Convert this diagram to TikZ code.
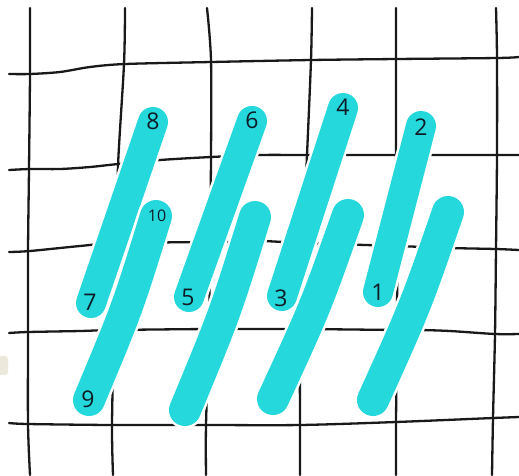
\documentclass[tikz,border=0pt]{standalone}
\usepackage{fontspec}
\setmainfont{Open Sans}
\usetikzlibrary{calc}
\definecolor{tealc}{RGB}{36,216,220}
\definecolor{inkc}{RGB}{15,28,38}
\definecolor{beigec}{RGB}{236,232,220}
\begin{document}
\begin{tikzpicture}[x=1pt,y=-1pt,
  gridline/.style={line width=2.3pt,black!90,line cap=round},
  halo/.style={line width=35pt,white,line cap=round},
  brush/.style={line width=30pt,tealc,line cap=round},
  halob/.style={line width=37pt,white,line cap=round},
  brushb/.style={line width=32pt,tealc,line cap=round},
  numlab/.style={inner sep=0pt,text=inkc,font=\fontsize{23}{23}\selectfont},
  smalllab/.style={inner sep=0pt,text=inkc,font=\fontsize{16}{16}\selectfont}]
\useasboundingbox[fill=white] (0,0) rectangle (519,475);
% beige blob at left edge
\fill[beigec,rounded corners=3pt] (-4,356) rectangle (8,375);
% grid: vertical
\draw[gridline] plot[smooth] coordinates {(30,8) (30,74) (29,169) (28,252) (28,333) (28,424) (30,475)};
\draw[gridline] plot[smooth] coordinates {(125,8) (124,64) (118,166) (117,244) (114,330) (112,425) (113,475)};
\draw[gridline] plot[smooth] coordinates {(207,8) (211,60) (211,157) (210,242) (209,330) (206,425) (206,475)};
\draw[gridline] plot[smooth] coordinates {(312,8) (311,60) (307,155) (303,243) (300,329) (300,425) (300,475)};
\draw[gridline] plot[smooth] coordinates {(396,8) (396,59) (396,155) (397,246) (397,330) (396,422) (396,475)};
\draw[gridline] plot[smooth] coordinates {(496,8) (497,58) (497,155) (496,249) (495,334) (493,418) (492,475)};
% grid: horizontal
\draw[gridline] plot[smooth] coordinates {(9,74) (30,74) (60,72) (90,67) (125,64) (211,62) (311,60) (396,59) (497,58) (519,57)};
\draw[gridline] plot[smooth] coordinates {(9,170) (30,169) (60,169) (90,167) (118,164) (160,160) (211,157) (260,155) (307,155) (396,155) (497,155) (519,155)};
\draw[gridline] plot[smooth] coordinates {(9,252) (30,251) (80,246) (117,243) (210,242) (260,241) (303,243) (397,246) (450,248) (496,249) (519,250)};
\draw[gridline] plot[smooth] coordinates {(9,333) (28,332) (80,331) (114,330) (210,329) (300,329) (397,330) (420,330) (450,331) (495,334) (519,334)};
\draw[gridline] plot[smooth] coordinates {(9,423) (28,424) (112,425) (206,425) (300,425) (396,422) (493,418) (519,417)};
% stitch end points
\coordinate (p8) at (153,122);
\coordinate (p7) at (91,303);
\coordinate (p10) at (156,216);
\coordinate (p9) at (89,400);
\coordinate (p6) at (252,121);
\coordinate (p5) at (189,297);
\coordinate (q5a) at (255,217);
\coordinate (q5b) at (185,410);
\coordinate (p4) at (343,108);
\coordinate (p3) at (282,296);
\coordinate (q3a) at (348,215);
\coordinate (q3b) at (273,399);
\coordinate (p2) at (421,126);
\coordinate (p1) at (378,292);
\coordinate (q1a) at (448,212);
\coordinate (q1b) at (373,400);
% first stitches
\foreach \a/\b in {p8/p7,p6/p5,p4/p3,p2/p1}{
  \draw[halo] (\a) -- (\b);
  \draw[brush] (\a) -- (\b);
}
% second stitches (slightly curved)
\foreach \a/\b in {p10/p9,q5a/q5b,q3a/q3b,q1a/q1b}{
  \draw[halob] (\a) .. controls ($(\a)!0.5!(\b)+(5,0)$) .. (\b);
  \draw[brushb] (\a) .. controls ($(\a)!0.5!(\b)+(5,0)$) .. (\b);
}
% labels
\node[numlab] (l8) at (153,121) {8};
\node[numlab] (l7) at (90,302) {7};
\node[smalllab] (l10) at (157,216) {10};
\node[numlab] (l9) at (88,399) {9};
\node[numlab] (l6) at (252,120) {6};
\node[numlab] (l5) at (188,297) {5};
\node[numlab] (l4) at (343,107) {4};
\node[numlab] (l3) at (281,298) {3};
\node[numlab] (l2) at (421,127) {2};
\node[numlab] (l1) at (378,292) {1};
\end{tikzpicture}
\end{document}
